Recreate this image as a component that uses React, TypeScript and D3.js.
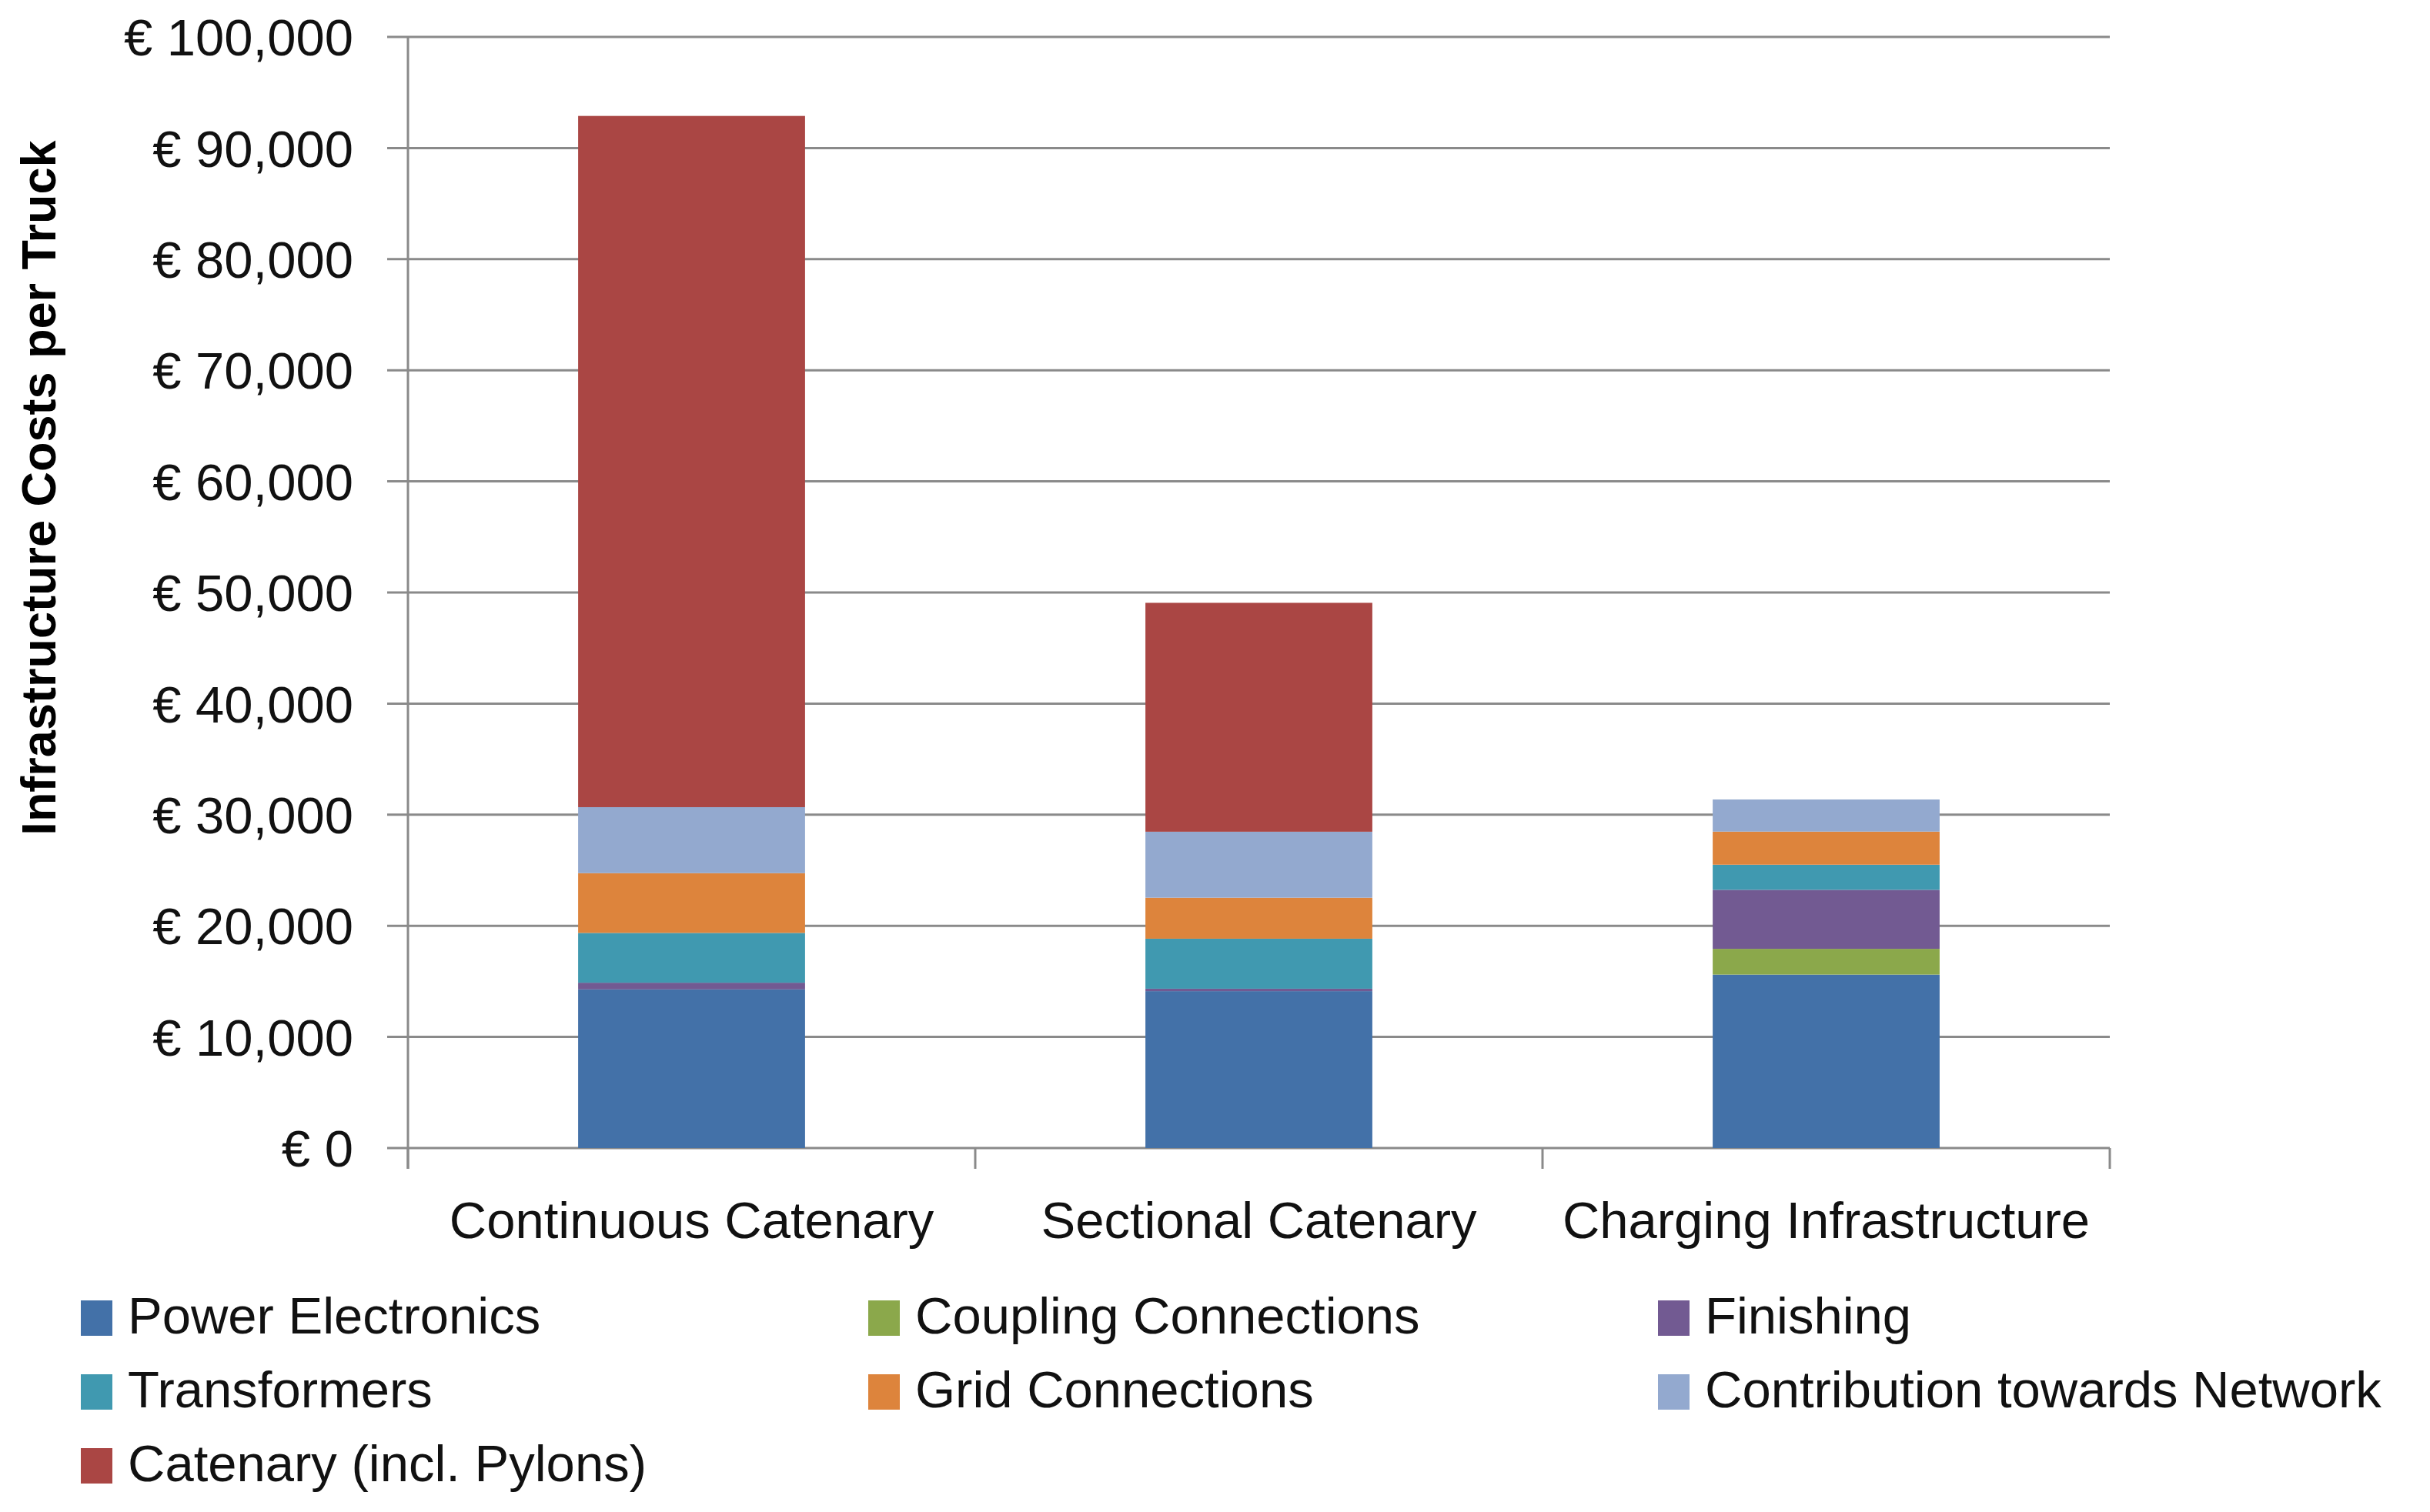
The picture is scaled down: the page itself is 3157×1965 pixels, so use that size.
import React from "react";
import * as d3 from "d3";

const categories = ["Continuous Catenary", "Sectional Catenary", "Charging Infrastructure"];
const seriesNames = [
  "Power Electronics",
  "Coupling Connections",
  "Finishing",
  "Transformers",
  "Grid Connections",
  "Contribution towards Network",
  "Catenary (incl. Pylons)",
];
const powerElectronics = [14280, 14120, 15610];
const couplingConnections = [0, 0, 2320];
const finishing = [600, 220, 5310];
const transformers = [4480, 4500, 2260];
const gridConnections = [5380, 3690, 2980];
const contributionNetwork = [5940, 5940, 2890];
const catenary = [62210, 20600, 0];
const seriesColors = ["#4371A8", "#8BA84B", "#725A92", "#4099B0", "#DD843C", "#93A9CF", "#AA4644"];
const yTicks = [0, 10000, 20000, 30000, 40000, 50000, 60000, 70000, 80000, 90000, 100000];
const yTitle = "Infrastructure Costs per Truck";

const W = 3157;
const H = 1965;
const FONT = "'Liberation Sans', Arial, sans-serif";

export default function App() {
  const seriesValues = [
    powerElectronics,
    couplingConnections,
    finishing,
    transformers,
    gridConnections,
    contributionNetwork,
    catenary,
  ];
  const table = categories.map((c, i) => {
    const row: any = { category: c };
    seriesNames.forEach((s, j) => (row[s] = seriesValues[j][i]));
    return row;
  });
  const stacked = d3.stack().keys(seriesNames)(table);

  const x = d3.scaleBand().domain(categories).range([530, 2741]).paddingInner(0.6).paddingOuter(0.3);
  const y = d3.scaleLinear().domain([0, 100000]).range([1492, 48]);
  const fmt = (v: number) => "€ " + d3.format(",")(v);
  const step = x.step();
  const x0 = 530;
  const x1 = 2741;
  const gridColor = "#8a8a8a";

  const legendCols = [105, 1128, 2154];
  const legendRows = [1733, 1829, 1925];

  return (
    <svg
      width={W}
      height={H}
      style={{ position: "absolute", left: 0, top: 0, background: "#fff" }}
      fontFamily={FONT}
    >
      <rect x={0} y={0} width={W} height={H} fill="#fff" />
      {/* gridlines */}
      {yTicks.map((t) => (
        <line key={"g" + t} x1={503} x2={x1} y1={y(t)} y2={y(t)} stroke={gridColor} strokeWidth={3} />
      ))}
      {/* y axis line */}
      <line x1={x0} x2={x0} y1={y(100000)} y2={y(0) + 27} stroke={gridColor} strokeWidth={3} />
      {/* x ticks */}
      {d3.range(categories.length + 1).map((i) => (
        <line
          key={"xt" + i}
          x1={x0 + i * step}
          x2={x0 + i * step}
          y1={y(0)}
          y2={y(0) + 27}
          stroke={gridColor}
          strokeWidth={3}
        />
      ))}
      {/* bars */}
      {stacked.map((layer, j) => (
        <g key={"s" + j} fill={seriesColors[j]}>
          {layer.map((d: any, i: number) =>
            d[1] - d[0] > 0 ? (
              <rect
                key={i}
                x={x(categories[i])}
                width={x.bandwidth()}
                y={y(d[1])}
                height={y(d[0]) - y(d[1])}
              />
            ) : null
          )}
        </g>
      ))}
      {/* y tick labels */}
      {yTicks.map((t) => (
        <text
          key={"yl" + t}
          x={459}
          y={y(t)}
          dy="0.36em"
          textAnchor="end"
          fontSize={67}
          fill="#111"
        >
          {fmt(t)}
        </text>
      ))}
      {/* x labels */}
      {categories.map((c) => (
        <text
          key={"xl" + c}
          x={(x(c) as number) + x.bandwidth() / 2}
          y={1609}
          textAnchor="middle"
          fontSize={67}
          fill="#111"
        >
          {c}
        </text>
      ))}
      {/* y title */}
      <text
        transform={`translate(72, 634) rotate(-90)`}
        textAnchor="middle"
        fontSize={63}
        fontWeight="bold"
        fill="#000"
      >
        {yTitle}
      </text>
      {/* legend */}
      {seriesNames.map((s, j) => {
        const cx = legendCols[j % 3];
        const cy = legendRows[Math.floor(j / 3)];
        return (
          <g key={"lg" + j}>
            <rect x={cx} y={cy - 43} width={41} height={46} fill={seriesColors[j]} />
            <text x={cx + 61} y={cy} fontSize={67} fill="#111">
              {s}
            </text>
          </g>
        );
      })}
    </svg>
  );
}
